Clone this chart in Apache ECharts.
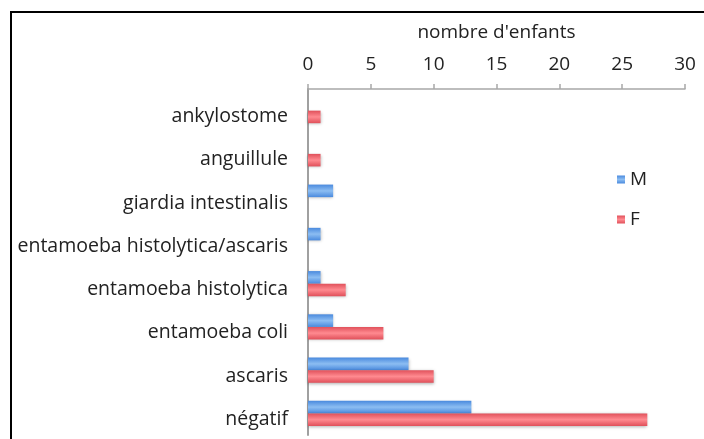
<!DOCTYPE html>
<html><head><meta charset="utf-8">
<script src="https://cdn.jsdelivr.net/npm/echarts@6/dist/echarts.min.js"></script>
<style>html,body{margin:0;padding:0;background:#fff;}#c{width:704px;height:439px;}</style>
</head><body><div id="c"></div>
<script>
const categories = ["ankylostome","anguillule","giardia intestinalis","entamoeba histolytica/ascaris","entamoeba histolytica","entamoeba coli","ascaris","négatif"];
const valuesM = [0,0,2,1,1,2,8,13];
const valuesF = [1,1,0,0,3,6,10,27];
const xTicks = {min:0,max:30,interval:5};
const axisName = "nombre d'enfants";

const chart = echarts.init(document.getElementById('c'));
const font = '"Open Sans", sans-serif';
function grad(c1,c2){return new echarts.graphic.LinearGradient(0,0,0,1,[{offset:0,color:c1},{offset:0.5,color:c2},{offset:1,color:c1}]);}
chart.setOption({
  animation:false,
  backgroundColor:'#fff',
  graphic:[{type:'rect',shape:{x:11,y:12,width:720,height:460},style:{fill:'none',stroke:'#000',lineWidth:2},silent:true}],
  grid:{left:308,right:19,top:89,bottom:4},
  legend:{orient:'vertical',left:612,top:165,itemWidth:8,itemHeight:8,itemGap:21,icon:'rect',
    textStyle:{fontFamily:font,fontSize:19,color:'#222'},data:['M','F']},
  xAxis:{type:'value',position:'top',min:xTicks.min,max:xTicks.max,interval:xTicks.interval,
    name:axisName,nameLocation:'middle',nameGap:47,nameTextStyle:{fontFamily:font,fontSize:19,color:'#222'},
    axisLine:{show:true,lineStyle:{color:'#a8a8a8',width:1.5}},
    axisTick:{show:true,length:5,lineStyle:{color:'#a8a8a8',width:1.5}},
    axisLabel:{fontFamily:font,fontSize:19,color:'#222',margin:15},
    splitLine:{show:false}},
  yAxis:{type:'category',inverse:true,data:categories,
    axisLine:{show:true,lineStyle:{color:'#a0a0a0',width:2}},
    axisTick:{show:false},
    axisLabel:{fontFamily:font,fontSize:19.5,color:'#222',margin:20,verticalAlign:'top',lineHeight:12}},
  series:[
    {name:'M',type:'bar',data:valuesM,barGap:'0%',barCategoryGap:'42%',
     itemStyle:{color:grad('#4a8ade','#8cbdf2'),shadowColor:'rgba(0,0,0,0.3)',shadowBlur:3,shadowOffsetY:1}},
    {name:'F',type:'bar',data:valuesF,barGap:'0%',barCategoryGap:'42%',
     itemStyle:{color:grad('#e0505a','#ff8a90'),shadowColor:'rgba(0,0,0,0.3)',shadowBlur:3,shadowOffsetY:1}}
  ]
});
</script></body></html>
